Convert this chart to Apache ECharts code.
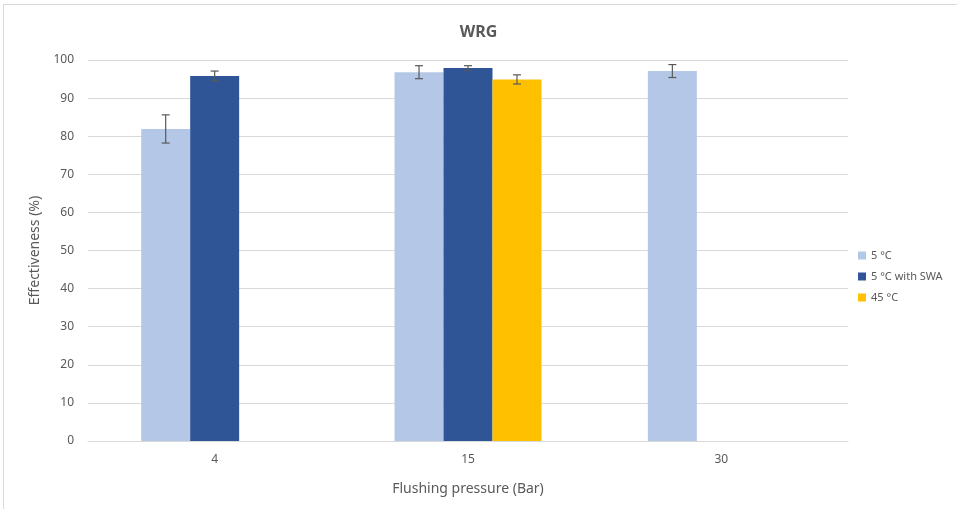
<!DOCTYPE html>
<html><head><meta charset="utf-8">
<script src="https://cdn.jsdelivr.net/npm/echarts@6/dist/echarts.min.js"></script>
<style>
html,body{margin:0;padding:0;background:#fff;overflow:hidden}
#frame{position:absolute;left:3px;top:4px;width:960px;height:520px;border:1px solid #d9d9d9;box-sizing:border-box;z-index:5;pointer-events:none}
#c{position:absolute;left:0;top:0;width:957px;height:509px}
</style></head>
<body>
<div id="c"></div>
<div id="frame"></div>
<script>
const categories = ['4', '15', '30'];
const seriesNames = ['5 °C', '5 °C with SWA', '45 °C'];
const values5C = [81.9, 96.8, 97.1];
const values5CSWA = [95.8, 97.9, null];
const values45C = [null, 94.9, null];
const err5C = [3.7, 1.7, 1.7];
const err5CSWA = [1.3, 0.6, null];
const err45C = [null, 1.2, null];
const colors = ['#B4C7E7', '#2F5597', '#FFC000'];
const yTicks = [0, 10, 20, 30, 40, 50, 60, 70, 80, 90, 100];

const allVals = [values5C, values5CSWA, values45C];
const allErr = [err5C, err5CSWA, err45C];
const gapRatio = 0.42;
const font = 'Noto Sans';
const txt = '#595959';

const chart = echarts.init(document.getElementById('c'), null, {renderer: 'canvas'});

const barSeries = allVals.map((v, i) => ({
  name: seriesNames[i], type: 'bar', data: v, barGap: '0%', barCategoryGap: (gapRatio*100) + '%',
  itemStyle: {color: colors[i]}, z: 2
}));

const errSeries = allVals.map((v, i) => ({
  type: 'custom', name: seriesNames[i] + ' err', z: 5, silent: true,
  data: v.map((val, j) => val == null ? [j, null, null] : [j, val - allErr[i][j], val + allErr[i][j]]),
  encode: {x: 0, y: [1, 2]},
  renderItem: function (params, api) {
    const lo = api.value(1), hi = api.value(2);
    if (lo == null || isNaN(lo)) return;
    const band = api.size([1, 0])[0];
    const bw = band * (1 - gapRatio) / 3;
    const off = (i - 1) * bw;
    const pLo = api.coord([api.value(0), lo]);
    const pHi = api.coord([api.value(0), hi]);
    const x = pLo[0] + off;
    const cap = 4;
    const st = {stroke: '#595959', lineWidth: 1.2};
    return {type: 'group', children: [
      {type: 'line', shape: {x1: x, y1: pLo[1], x2: x, y2: pHi[1]}, style: st},
      {type: 'line', shape: {x1: x - cap, y1: pLo[1], x2: x + cap, y2: pLo[1]}, style: st},
      {type: 'line', shape: {x1: x - cap, y1: pHi[1], x2: x + cap, y2: pHi[1]}, style: st}
    ]};
  }
}));

chart.setOption({
  animation: false,
  backgroundColor: '#fff',
  title: {text: 'WRG', left: 'center', top: 19, textStyle: {fontFamily: font, fontSize: 16, fontWeight: 'bold', color: txt}},
  grid: {left: 88, right: 109, top: 60, bottom: 68},
  legend: {
    data: seriesNames, orient: 'vertical', left: 853, top: 245, itemWidth: 8, itemHeight: 8, itemGap: 10,
    icon: 'rect', textStyle: {fontFamily: font, fontSize: 11, color: txt}
  },
  xAxis: {
    type: 'category', data: categories,
    name: 'Flushing pressure (Bar)', nameLocation: 'middle', nameGap: 41,
    nameTextStyle: {fontFamily: font, fontSize: 14, color: txt},
    axisLine: {lineStyle: {color: '#d9d9d9'}}, axisTick: {show: false},
    axisLabel: {fontFamily: font, fontSize: 12, color: txt, margin: 13}
  },
  yAxis: {
    type: 'value', min: yTicks[0], max: yTicks[yTicks.length - 1], interval: 10,
    name: 'Effectiveness (%)', nameLocation: 'middle', nameGap: 44,
    nameTextStyle: {fontFamily: font, fontSize: 14, color: txt},
    axisLine: {show: false}, axisTick: {show: false},
    axisLabel: {fontFamily: font, fontSize: 12, color: txt, margin: 14},
    splitLine: {lineStyle: {color: '#d9d9d9'}}
  },
  series: barSeries.concat(errSeries)
});
</script>
</body></html>
